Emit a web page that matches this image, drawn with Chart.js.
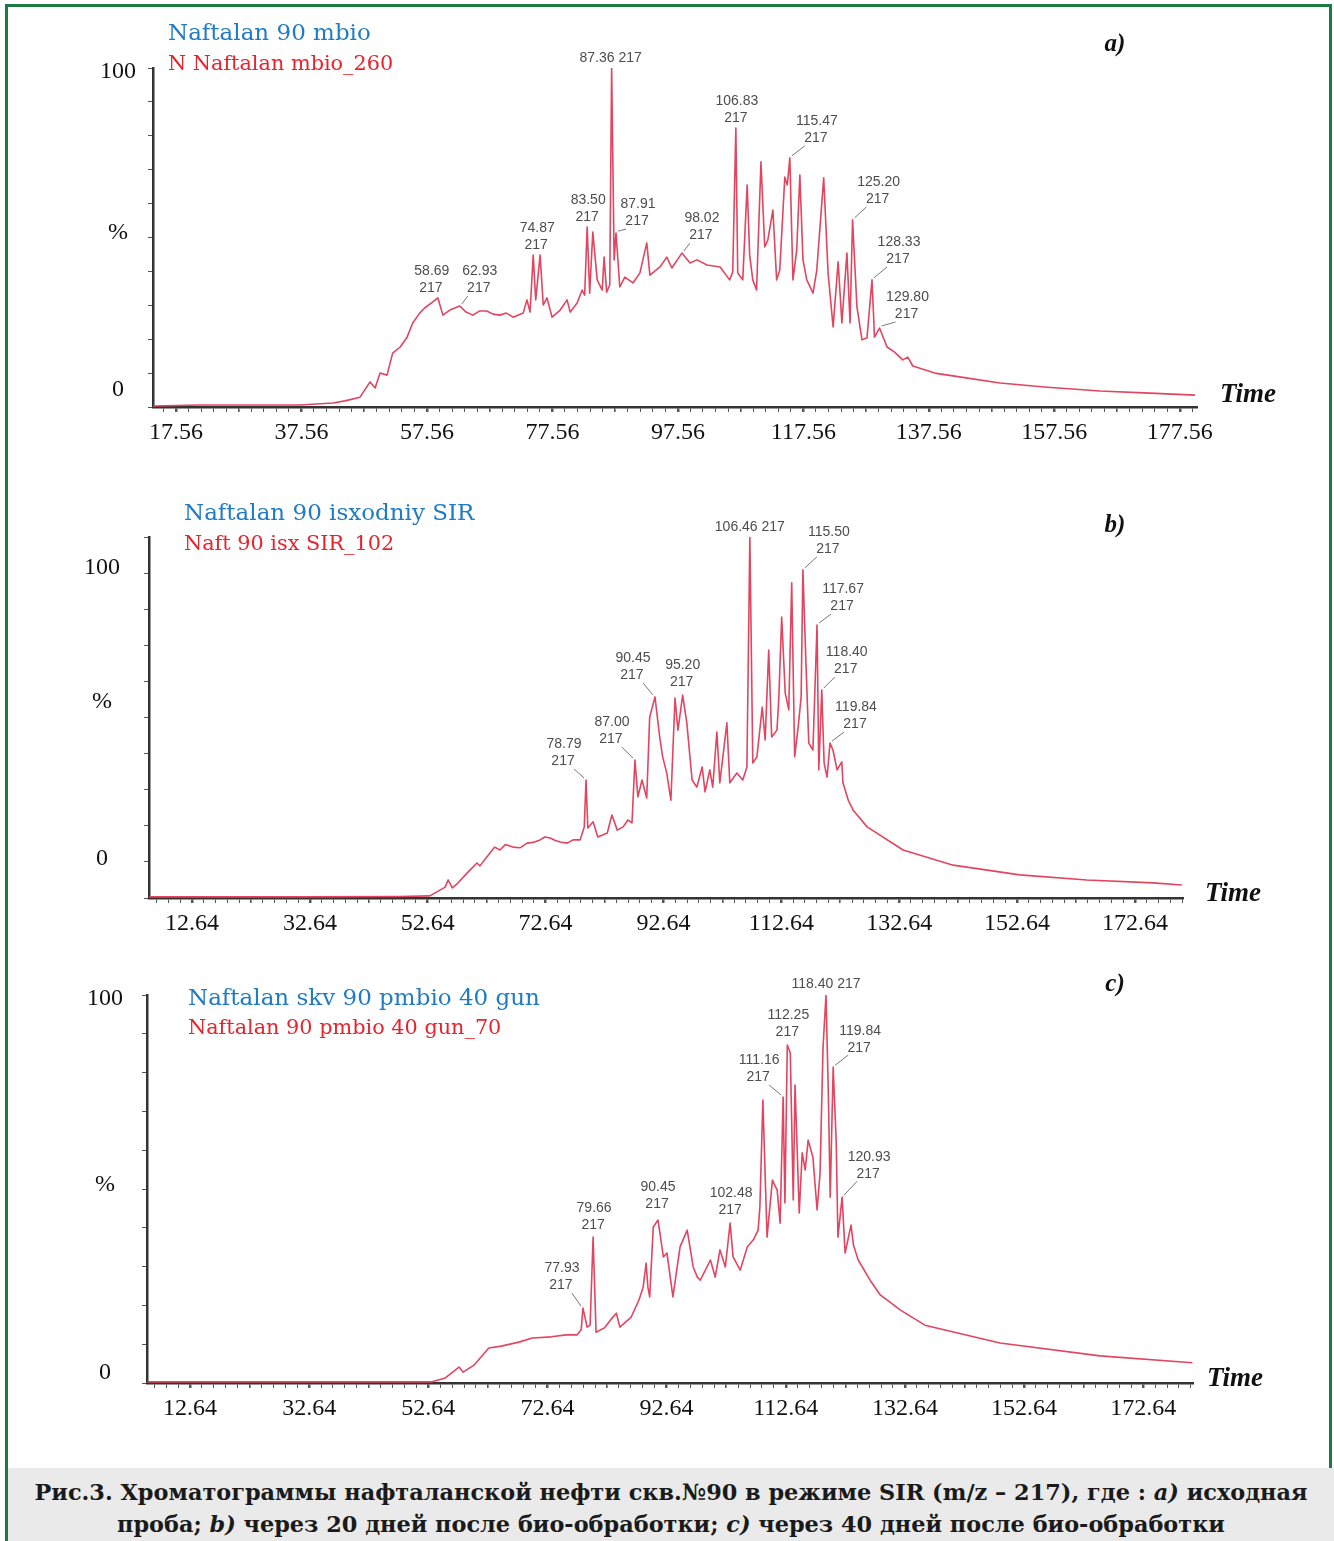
<!DOCTYPE html>
<html>
<head>
<meta charset="utf-8">
<script src="https://cdn.jsdelivr.net/npm/chart.js@4.4.1/dist/chart.umd.min.js"></script>
<style>
  body { margin: 0; background: #fff; }
  #page { position: relative; width: 1334px; height: 1541px; overflow: hidden; background: #fff; }
  .frame { position: absolute; left: 5px; top: 4px; width: 1327px; height: 1600px; border: 3px solid #1d7a44; box-sizing: border-box; }
  canvas { position: absolute; left: 0; }
  .t { position: absolute; white-space: nowrap; line-height: 1; transform: translateY(-50%); z-index: 2; }
  .blue { font-family: "DejaVu Serif", serif; font-size: 23px; color: #1f7bc2; }
  .red { font-family: "DejaVu Serif", serif; font-size: 20.8px; color: #e8232c; }
  .yl { font-family: "Liberation Serif", serif; font-size: 24px; color: #111; transform: translate(-50%, -50%); }
  .time { font-family: "Liberation Serif", serif; font-size: 27px; font-weight: bold; font-style: italic; color: #111; }
  .tag { font-family: "Liberation Serif", serif; font-size: 25px; font-weight: bold; font-style: italic; color: #111; transform: translate(-50%, -50%); }
  .cap { position: absolute; left: 8px; top: 1468px; width: 1326px; height: 80px; background: #e9eae9; z-index: 3;
         font-family: "DejaVu Serif", serif; font-weight: bold; font-size: 22.4px; line-height: 32px; color: #1a1a1a; text-align: center; padding-top: 8px; box-sizing: border-box; }
</style>
</head>
<body>
<div id="page">
  <div class="frame"></div>

  <canvas id="chartA" width="1334" height="460" style="top:0px"></canvas>
  <canvas id="chartB" width="1334" height="480" style="top:470px"></canvas>
  <canvas id="chartC" width="1334" height="500" style="top:950px"></canvas>

  <div class="t blue" style="left:168px;top:32px">Naftalan 90 mbio</div>
  <div class="t red" style="left:168px;top:63px">N Naftalan mbio_260</div>
  <div class="t yl" style="left:118px;top:70px">100</div>
  <div class="t yl" style="left:118px;top:231px">%</div>
  <div class="t yl" style="left:118px;top:388px">0</div>
  <div class="t time" style="left:1220px;top:393px">Time</div>
  <div class="t tag" style="left:1115px;top:42px">a)</div>

  <div class="t blue" style="left:184px;top:512px">Naftalan 90 isxodniy SIR</div>
  <div class="t red" style="left:184px;top:543px">Naft 90 isx SIR_102</div>
  <div class="t yl" style="left:102px;top:566px">100</div>
  <div class="t yl" style="left:102px;top:700px">%</div>
  <div class="t yl" style="left:102px;top:857px">0</div>
  <div class="t time" style="left:1205px;top:892px">Time</div>
  <div class="t tag" style="left:1115px;top:523px">b)</div>

  <div class="t blue" style="left:188px;top:997px">Naftalan skv 90 pmbio 40 gun</div>
  <div class="t red" style="left:188px;top:1027px">Naftalan 90 pmbio 40 gun_70</div>
  <div class="t yl" style="left:105px;top:997px">100</div>
  <div class="t yl" style="left:105px;top:1183px">%</div>
  <div class="t yl" style="left:105px;top:1371px">0</div>
  <div class="t time" style="left:1207px;top:1377px">Time</div>
  <div class="t tag" style="left:1115px;top:982px">c)</div>

  <div class="cap">Рис.3. Хроматограммы нафталанской нефти скв.№90 в режиме SIR (m/z – 217), где : <i>a)</i> исходная<br>проба; <i>b)</i> через 20 дней после био-обработки; <i>c)</i> через 40 дней после био-обработки</div>
</div>

<script>
// chromatogram traces: [time, % intensity]
const seriesA = [[13.9,0.3],[21.4,0.6],[29.4,0.6],[37.3,0.6],[42.6,1.2],[44.5,1.8],[46.9,2.9],[48.5,7.4],[49.3,5.6],
  [50.1,10.0],[51.2,9.4],[52.1,15.9],[53.3,17.7],[54.4,20.6],[55.3,24.8],[56.4,27.7],[57.2,29.2],[58.5,31.0],[59.3,32.2],
  [60.1,27.1],[61.2,28.6],[62.8,29.8],[63.8,28.0],[64.9,27.1],[65.9,28.3],[67.1,28.3],[68.1,27.4],[69.2,27.1],[70.2,27.7],
  [71.3,26.5],[72.9,27.7],[73.5,31.6],[74.0,28.0],
  [74.5,44.8],[74.9,31.6],[75.6,44.8],[76.1,30.1],[76.7,32.2],[77.5,26.5],[78.8,28.6],[79.9,31.6],[80.4,28.0],[81.5,30.7],
  [82.3,34.5],[82.7,33.0],[83.1,53.1],[83.5,33.6],[84.0,51.6],[84.7,37.5],[85.5,34.5],[85.8,44.2],[86.2,33.9],[86.7,36.0],
  [87.0,100],[87.4,43.4],[87.7,51.3],[88.3,35.4],[89.1,38.3],[90.4,36.6],[91.5,39.5],[92.6,48.4],[93.1,38.9],[94.7,41.3],
  [95.8,44.2],[96.6,41.0],[98.2,45.4],[99.5,42.5],[100.6,43.4],[102.2,41.9],[104.3,41.3],[105.8,37.5],[106.3,39.8],
  [106.8,82.3],[107.1,39.5],[107.9,37.5],[108.6,65.5],[109.0,44.8],[109.5,37.5],[110.1,34.5],[110.8,72.3],[111.4,47.2],
  [111.9,49.3],[112.7,58.1],[113.3,37.5],[113.8,40.4],[114.6,67.8],[115.0,65.5],[115.4,73.5],[115.9,37.5],[116.5,46.3],
  [117.0,68.4],[117.5,43.4],[118.1,37.5],[119.1,33.6],[119.7,40.4],[120.5,60.2],[120.8,67.6],[121.5,39.5],[122.3,23.6],
  [123.1,42.8],[123.7,24.8],[124.5,45.4],[125.0,24.8],[125.4,55.2],[126.1,29.5],[126.9,19.8],[127.7,20.4],[128.5,37.5],
  [128.9,20.6],[129.7,23.3],[130.9,17.7],[132.1,16.2],[133.4,13.9],[134.2,14.7],[135.0,12.1],[138.5,10.0],[143.5,8.6],
  [148.9,7.1],[156.0,5.9],[164.8,4.7],[172.8,4.1],[180.0,3.5]];

const seriesB = [[5.4,0.3],[14.0,0.3],[31.0,0.3],[47.9,0.4],[53.0,0.6],[55.6,3.0],[56.1,5.0],[56.8,2.8],[57.6,3.9],
  [59.3,6.9],[61.0,9.7],[61.5,8.9],[62.7,11.4],[64.0,14.1],[64.9,13.3],[65.8,14.8],[67.1,14.1],[68.3,13.9],[69.5,15.2],
  [70.5,15.4],[71.7,16.1],[72.5,16.9],[73.4,16.6],[74.2,16.0],[75.1,15.5],[76.3,15.2],[77.3,16.1],[78.5,16.1],[79.2,19.7],
  [79.5,32.7],[79.8,19.4],[80.7,21.1],[81.5,16.9],
  [83.1,18.0],[83.9,23.0],[84.8,18.8],[85.8,19.7],[86.6,21.6],[87.3,20.8],[87.8,38.2],[88.3,28.0],[89.0,32.7],[89.8,27.7],
  [90.3,50.1],[91.2,55.7],[92.0,44.6],[92.5,39.1],[93.2,34.6],[93.9,27.1],[94.6,55.4],[95.1,46.5],[95.9,56.2],[96.6,48.5],
  [97.5,32.7],[98.3,30.7],[99.2,36.3],[99.7,29.4],[100.5,35.5],[101.0,30.7],[101.7,46.0],[102.2,31.9],[103.4,48.5],
  [103.9,31.9],[105.1,34.6],[106.1,32.7],[106.8,36.3],[107.3,100],[107.8,37.4],[108.5,39.1],[109.4,52.9],[109.9,43.8],
  [110.5,68.7],[111.0,44.6],[111.9,46.5],[112.2,54.8],[112.7,77.8],[113.3,56.8],[113.9,52.1],[114.4,87.3],[114.9,39.1],
  [115.5,47.4],[116.0,55.7],[116.3,90.9],[116.8,65.9],[117.3,42.9],[118.0,41.0],[118.7,75.6],[119.0,35.5],[119.5,57.6],
  [119.9,37.4],[120.4,33.5],[120.9,42.9],[121.4,41.0],[122.1,35.5],[122.9,37.7],[123.1,31.9],[124.0,27.1],[124.8,24.4],
  [127.2,19.7],[133.3,13.3],[141.8,9.1],[153.1,6.4],[164.5,5.0],[175.7,4.2],[180.6,3.6]];

const seriesC = [[5.5,0.3],[14.3,0.3],[31.1,0.3],[47.9,0.3],[53.3,0.3],[55.5,1.3],[57.8,4.1],[58.5,2.8],[60.3,4.6],
  [62.8,9.0],[64.9,9.5],[68.0,10.6],[70.1,11.6],[73.3,11.9],[75.8,12.4],[77.6,12.4],[78.3,13.7],[78.6,19.3],[79.3,14.4],
  [79.8,14.9],[80.3,37.6],[80.8,13.1],[82.2,14.2],[83.2,16.2],[84.2,18.0],[84.8,14.4],[86.7,17.0],[88.0,21.4],[88.7,24.7],
  [89.2,30.9],[89.5,24.7],[89.8,22.2],[90.4,40.2],[91.2,42.0],[92.1,32.5],[92.7,33.5],[93.7,22.2],[94.9,35.1],[96.1,39.4],
  [97.1,29.9],[97.8,27.3],[98.3,26.5],[100.0,31.7],[100.8,27.3],[101.6,34.3],[102.5,29.9],[103.3,41.2],[103.8,32.5],
  [105.0,29.1],[106.2,35.1],[107.2,36.9],[108.0,39.4],[108.3,45.4],[108.8,72.9],[109.5,37.6],[110.4,52.3],[111.2,49.7],
  [111.7,41.2],[112.2,73.7],[112.5,46.4],[112.9,87.1],[113.4,85.1],[113.9,47.2],[114.2,76.8],[114.6,58.2],[114.9,43.8],
  [115.4,59.3],[115.9,54.9],[116.4,62.6],[117.2,58.2],[117.9,44.6],[118.4,54.1],[118.9,86.6],[119.4,100],[119.8,73.7],
  [120.1,47.9],[120.6,81.4],[121.1,62.6],[121.4,37.6],[122.1,47.9],[122.6,33.5],[123.6,40.7],[124.0,35.6],[124.8,31.7],
  [126.8,26.5],[128.5,22.7],[131.9,18.8],[136.0,14.9],[148.6,10.3],[165.4,7.0],[180.9,5.2]];

// labelled x ticks
const ticksA = [17.56, 37.56, 57.56, 77.56, 97.56, 117.56, 137.56, 157.56, 177.56];
const ticksB = [12.64, 32.64, 52.64, 72.64, 92.64, 112.64, 132.64, 152.64, 172.64];
const ticksC = [12.64, 32.64, 52.64, 72.64, 92.64, 112.64, 132.64, 152.64, 172.64];

// peak annotations: text and retention time of the marked peak
const peakTextA = ["87.36 217", "106.83\n217", "115.47\n217", "125.20\n217", "128.33\n217", "129.80\n217",
  "83.50\n217", "87.91\n217", "98.02\n217", "74.87\n217", "58.69\n217", "62.93\n217"];
const peakTimeA = [87.0, 106.8, 115.4, 125.4, 128.5, 129.7, 83.1, 87.7, 98.2, 74.5, 59.3, 62.8];
const peakTextB = ["106.46 217", "115.50\n217", "117.67\n217", "118.40\n217", "119.84\n217",
  "90.45\n217", "95.20\n217", "87.00\n217", "78.79\n217"];
const peakTimeB = [107.3, 116.3, 118.7, 119.5, 120.9, 91.2, 95.9, 87.8, 79.5];
const peakTextC = ["118.40 217", "112.25\n217", "111.16\n217", "119.84\n217", "120.93\n217",
  "102.48\n217", "90.45\n217", "79.66\n217", "77.93\n217"];
const peakTimeC = [119.4, 112.9, 112.2, 120.6, 122.1, 103.3, 91.2, 80.3, 78.6];

// where each annotation sits relative to its peak top (px)
const offsA = [[-1,-10],[0,-18],[26,-28],[25,-29],[26,-29],[27,-22],[0,-18],[21,-20],[19,-26],[3,-18],[-7,-18],[19,-26]];
const offsB = [[0,-10],[25,-29],[25,-27],[24,-29],[25,-27],[-23,-30],[-1,-21],[-24,-29],[-23,-27]];
const offsC = [[0,-11],[0,-21],[-25,-28],[26,-28],[26,-32],[0,-22],[-1,-24],[0,-20],[-22,-31]];

const peakLabels = {
  id: "peakLabels",
  afterDatasetsDraw(chart, args, opts) {
    const ctx = chart.ctx;
    const x = chart.scales.x, y = chart.scales.y;
    const pts = chart.data.datasets[0].data;
    ctx.save();
    ctx.font = '14px "Liberation Sans", Arial, sans-serif';
    ctx.fillStyle = "#4d4d4d";
    ctx.strokeStyle = "#777";
    ctx.lineWidth = 1;
    ctx.textAlign = "center";
    ctx.textBaseline = "middle";
    opts.texts.forEach((txt, i) => {
      let best = pts[0];
      pts.forEach(p => { if (Math.abs(p.x - opts.times[i]) < Math.abs(best.x - opts.times[i])) best = p; });
      const px = x.getPixelForValue(best.x);
      const py = y.getPixelForValue(best.y);
      const [dx, dy] = opts.offsets[i];
      const lines = txt.split("\n");
      if (lines.length === 1) {
        ctx.fillText(lines[0], px + dx, py + dy);
      } else {
        ctx.fillText(lines[0], px + dx + 1, py + dy - 8.5);
        ctx.fillText(lines[1], px + dx, py + dy + 8.5);
      }
      if (Math.abs(dx) >= 15) {
        const sx = dx > 0 ? px + dx - 11 : px + dx + 11;
        ctx.beginPath();
        ctx.moveTo(sx, py + dy + 16);
        ctx.lineTo(px + (dx > 0 ? 2 : -2), py - 2);
        ctx.stroke();
      }
    });
    ctx.restore();
  }
};

function makeChart(id, series, xMin, xMax, majors, area, canvasTop, canvasH, texts, times, offsets) {
  const minor = [];
  for (let k = -5; k < 100; k++) {
    const v = Math.round((majors[0] + 2 * k) * 100) / 100;
    if (v >= xMin && v <= xMax) minor.push(v);
  }
  const isMajor = v => majors.some(t => Math.abs(t - v) < 1e-6);
  const isMid = v => Math.abs(((v - majors[0]) / 10) - Math.round((v - majors[0]) / 10)) < 1e-6;

  return new Chart(document.getElementById(id), {
    type: "line",
    data: {
      datasets: [{
        data: series.map(p => ({ x: p[0], y: p[1] })),
        borderColor: "#e2455f",
        borderWidth: 1.6,
        borderJoinStyle: "round",
        pointRadius: 0,
        tension: 0,
        fill: false
      }]
    },
    options: {
      responsive: false,
      animation: false,
      devicePixelRatio: 1,
      layout: {
        padding: {
          left: area.left - 10,
          right: 1334 - area.right,
          top: area.top - canvasTop,
          bottom: canvasTop + canvasH - area.bottom - 40
        }
      },
      plugins: {
        legend: { display: false },
        tooltip: { enabled: false },
        peakLabels: { texts: texts, times: times, offsets: offsets }
      },
      scales: {
        x: {
          type: "linear",
          min: xMin,
          max: xMax,
          afterFit(s) { s.height = 40; },
          afterBuildTicks(s) { s.ticks = minor.map(v => ({ value: v })); },
          ticks: {
            autoSkip: false,
            maxRotation: 0,
            padding: 6,
            color: "#111",
            font: { family: "Liberation Serif", size: 24 },
            callback: v => (isMajor(v) ? v.toFixed(2) : "")
          },
          grid: {
            drawOnChartArea: false,
            drawTicks: true,
            tickLength: 5,
            color: "#555",
            lineWidth: c => (c.tick && isMajor(c.tick.value) ? 2.5 : (c.tick && isMid(c.tick.value) ? 1.6 : 1))
          },
          border: { color: "#333", width: 2.5 }
        },
        y: {
          min: 0,
          max: 100,
          afterFit(s) { s.width = 10; },
          ticks: { display: false, stepSize: 10 },
          grid: { drawOnChartArea: false, drawTicks: true, tickLength: 5, color: "#555" },
          border: { color: "#333", width: 2.5 }
        }
      }
    },
    plugins: [peakLabels]
  });
}

makeChart("chartA", seriesA, 13.9, 180.3, ticksA, { left: 153, right: 1197, top: 68, bottom: 407 }, 0, 460, peakTextA, peakTimeA, offsA);
makeChart("chartB", seriesB, 5.34, 180.8, ticksB, { left: 149, right: 1183, top: 537, bottom: 898 }, 470, 480, peakTextB, peakTimeB, offsB);
makeChart("chartC", seriesC, 5.42, 181.0, ticksC, { left: 147, right: 1193, top: 995, bottom: 1383 }, 950, 500, peakTextC, peakTimeC, offsC);
</script>
</body>
</html>
